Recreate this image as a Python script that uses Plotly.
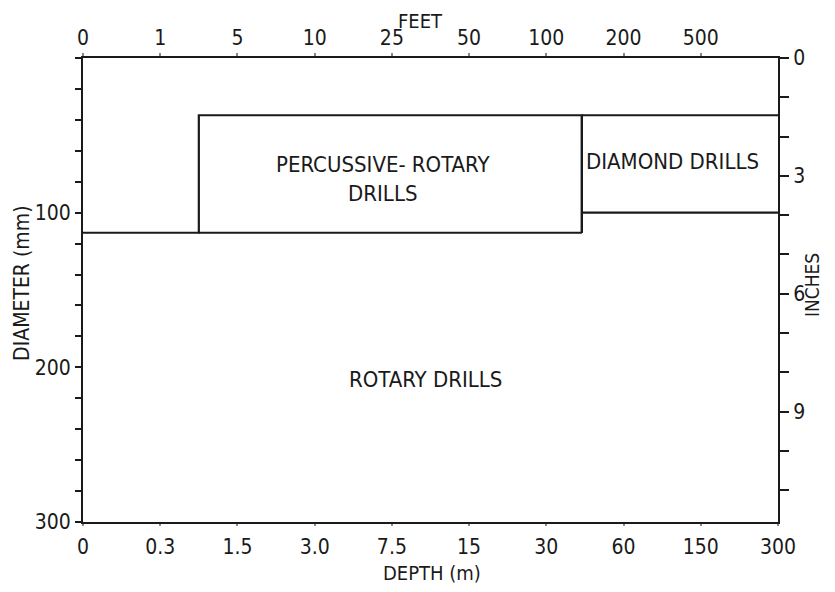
import plotly.graph_objects as go

# ---- data ----
depth_labels = ["0", "0.3", "1.5", "3.0", "7.5", "15", "30", "60", "150", "300"]
feet_labels = ["0", "1", "5", "10", "25", "50", "100", "200", "500"]
diam_ticks = [100, 200, 300]
inch_ticks = [0, 3, 6, 9]

# region boundaries (x in depth-scale index units, y in mm)
perc_x = [1.5, 6.46]
perc_y = [37, 113]
diamond_x = [6.46, 9]
diamond_y = [37, 100]
rotary_edge_x = [0, 1.5]

region_labels = ["PERCUSSIVE- ROTARY<br>DRILLS", "DIAMOND DRILLS", "ROTARY DRILLS"]
label_x = [3.88, 7.64, 4.44]
label_y = [78, 67, 208]

FONT = "Liberation Sans Narrow, DejaVu Sans Condensed, Roboto Condensed, Liberation Sans, Arial"
INK = "#1a1a1a"

fig = go.Figure()

line = dict(color=INK, width=2.2)
# rotary / percussive boundary
fig.add_trace(go.Scatter(
    x=[rotary_edge_x[0], perc_x[0], perc_x[0], perc_x[1], perc_x[1]],
    y=[perc_y[1], perc_y[1], perc_y[0], perc_y[0], perc_y[1]],
    mode="lines", line=line, showlegend=False, hoverinfo="skip"))
fig.add_trace(go.Scatter(
    x=[perc_x[0], perc_x[1]], y=[perc_y[1], perc_y[1]],
    mode="lines", line=line, showlegend=False, hoverinfo="skip"))
# diamond box
fig.add_trace(go.Scatter(
    x=[diamond_x[0], diamond_x[1], None, diamond_x[0], diamond_x[1], None, diamond_x[0], diamond_x[0]],
    y=[diamond_y[0], diamond_y[0], None, diamond_y[1], diamond_y[1], None, diamond_y[0], perc_y[1]],
    mode="lines", line=line, showlegend=False, hoverinfo="skip"))
# invisible trace to activate secondary axes
fig.add_trace(go.Scatter(x=[0], y=[0], xaxis="x2", yaxis="y2", mode="markers",
                         marker=dict(opacity=0), showlegend=False, hoverinfo="skip"))

for t, x, y in zip(region_labels, label_x, label_y):
    fig.add_annotation(x=x, y=y, text=t, showarrow=False, xref="x", yref="y",
                       xanchor="center", yanchor="middle",
                       font=dict(family=FONT, size=22, color=INK), align="center")

# axis titles
title_font = dict(family=FONT, size=20, color=INK)
fig.add_annotation(text="FEET", xref="paper", yref="paper", x=0.485, y=1.08,
                   xanchor="center", yanchor="middle", showarrow=False, font=title_font)
fig.add_annotation(text="DEPTH (m)", xref="paper", yref="paper", x=0.502, y=-0.11,
                   xanchor="center", yanchor="middle", showarrow=False, font=title_font)
fig.add_annotation(text="DIAMETER (mm)", xref="paper", yref="paper", x=-0.088, y=0.515,
                   xanchor="center", yanchor="middle", showarrow=False, textangle=-90,
                   font=dict(family=FONT, size=21, color=INK))
fig.add_annotation(text="INCHES", xref="paper", yref="paper", x=1.05, y=0.51,
                   xanchor="center", yanchor="middle", showarrow=False, textangle=-90,
                   font=dict(family=FONT, size=19, color=INK))

tickfont = dict(family=FONT, size=21, color=INK)
fig.update_layout(
    width=819, height=576,
    margin=dict(l=75, r=49, t=50, b=62),
    paper_bgcolor="white", plot_bgcolor="white",
    xaxis=dict(range=[0, 9], tickmode="array", tickvals=list(range(len(depth_labels))),
               ticktext=depth_labels, showgrid=False, zeroline=False,
               showline=True, linecolor=INK, linewidth=2,
               ticks="outside", ticklen=2, tickwidth=1.5, tickcolor="#888",
               ticklabelstandoff=3, tickfont=tickfont),
    xaxis2=dict(range=[0, 9], overlaying="x", side="top", tickmode="array",
                tickvals=list(range(len(feet_labels))), ticktext=feet_labels,
                showgrid=False, zeroline=False, showline=True, linecolor=INK, linewidth=2,
                ticks="outside", ticklen=3, tickwidth=1.5, tickcolor="#888",
                tickfont=tickfont),
    yaxis=dict(range=[300, 0], tickmode="array", tickvals=diam_ticks,
               showgrid=False, zeroline=False, showline=True, linecolor=INK, linewidth=2,
               ticks="outside", ticklen=6, tickwidth=1.5, tickcolor=INK,
               minor=dict(tickmode="linear", tick0=0, dtick=20, ticks="outside",
                          ticklen=6, tickwidth=1.5, tickcolor=INK),
               tickfont=tickfont),
    yaxis2=dict(range=[300 / 25.4, 0], overlaying="y", side="right", tickmode="array",
                tickvals=inch_ticks, showgrid=False, zeroline=False,
                showline=True, linecolor=INK, linewidth=2,
                ticks="outside", ticklen=9, tickwidth=1.5, tickcolor=INK,
                minor=dict(tickmode="linear", tick0=0, dtick=1, ticks="outside",
                           ticklen=9, tickwidth=1.5, tickcolor=INK),
                tickfont=tickfont),
)

fig.write_html("out.html")
